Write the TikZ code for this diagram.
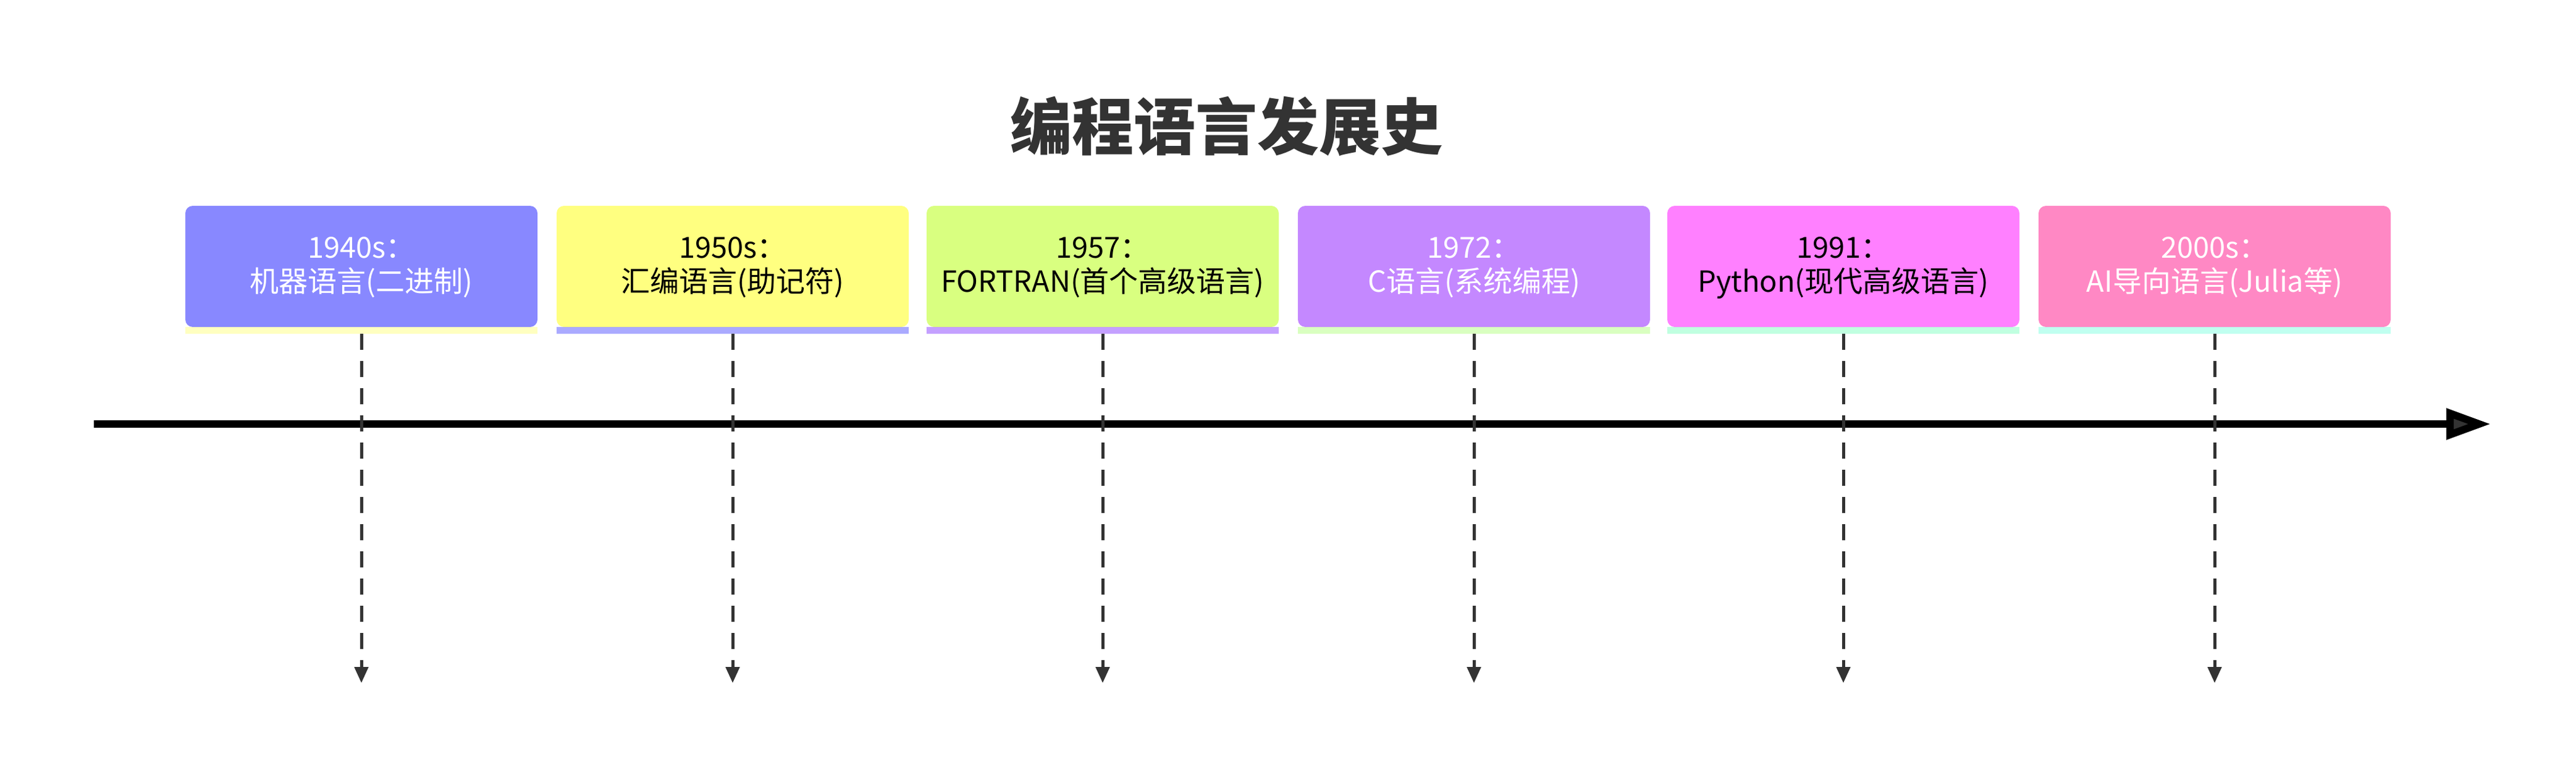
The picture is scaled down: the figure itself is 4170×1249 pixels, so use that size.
\documentclass[tikz,border=0pt]{standalone}
\usepackage{fontspec}
\setmainfont{Noto Sans CJK SC}
\usetikzlibrary{arrows.meta}
\definecolor{tc}{HTML}{333333}
\tikzset{
  lbl/.style={align=center,font=\fontsize{47}{55}\selectfont,inner sep=0pt},
  vconn/.style={draw=tc,line width=5pt,dash pattern=on 26pt off 18pt,-{Triangle[length=26pt,width=22pt]}},
}
\newcommand{\mybox}[6]{%
  \definecolor{fc#5}{HTML}{#2}\definecolor{sc#5}{HTML}{#3}%
  \fill[fc#5,rounded corners=12pt] (#1-285,529) |- (#1+285,333) -- (#1+285,529) -- cycle;
  \fill[sc#5] (#1-285,529) rectangle (#1+285,540);
  \node[lbl,text=#4] (#5) at (#1,433) {#6};
  \coordinate (s#5) at (#1,540);
  \coordinate (e#5) at (#1,1105);
}
\begin{document}
\begin{tikzpicture}[x=1pt,y=-1pt]
\useasboundingbox (0,0) rectangle (4170,1249);
\node[font=\fontsize{100}{110}\selectfont\bfseries,text=tc] (title) at (1985,205) {编程语言发展史};
\mybox{585}{8888FF}{FFFFC0}{white}{b1}{1940s：\\机器语言(二进制)}
\mybox{1186}{FFFF80}{AAAAFF}{black}{b2}{1950s：\\汇编语言(助记符)}
\mybox{1785}{D9FF80}{C4A0FF}{black}{b3}{1957：\\FORTRAN(首个高级语言)}
\mybox{2386}{C488FF}{D9FFC0}{white}{b4}{1972：\\C语言(系统编程)}
\mybox{2984}{FF80FF}{C0FFE0}{black}{b5}{1991：\\Python(现代高级语言)}
\mybox{3585}{FF88C4}{C0FFF0}{white}{b6}{2000s：\\AI导向语言(Julia等)}
\coordinate (ts) at (152,686);
\coordinate (te) at (4032,686);
\draw[line width=12pt,-{Triangle[length=72pt,width=48pt,fill=tc]}] (ts) -- (te);
\foreach \i in {1,...,6}{\draw[vconn] (sb\i) -- (eb\i);}
\end{tikzpicture}
\end{document}
